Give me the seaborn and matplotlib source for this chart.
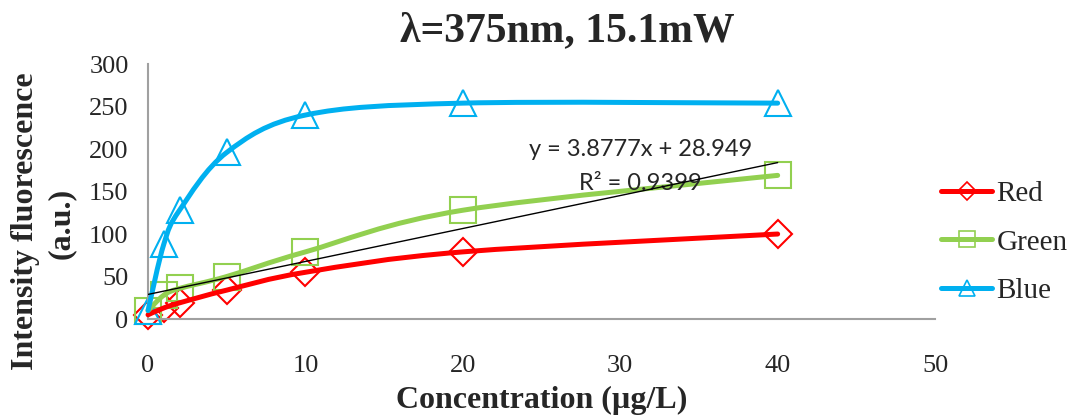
import matplotlib
matplotlib.use("Agg")
import matplotlib.pyplot as plt
from matplotlib.path import Path
from matplotlib.patches import PathPatch
from matplotlib.lines import Line2D
import seaborn as sns

sns.set_theme(style="white")
plt.rcParams["font.family"] = ["Liberation Serif", "DejaVu Serif"]

# data
conc = [0, 1, 2, 5, 10, 20, 40]
red = [5, 13, 19, 34, 55, 79, 100]
green = [10, 28, 36, 50, 79, 128, 169]
blue = [10, 88, 128, 196, 240, 254, 254]
trend_slope = 3.8777
trend_intercept = 28.949
trend_r2 = 0.9399
x_ticks = [0, 10, 20, 30, 40, 50]
y_ticks = [0, 50, 100, 150, 200, 250, 300]

series = [
    ("Red", red, "#ff0000", "D"),
    ("Green", green, "#92d050", "s"),
    ("Blue", blue, "#00b0f0", "^"),
]


def smooth_path(xs, ys):
    # excel-like smoothed line: cubic bezier through the points
    pts = list(zip(xs, ys))
    ext = [pts[0]] + pts + [pts[-1]]
    verts = [pts[0]]
    codes = [Path.MOVETO]
    for i in range(1, len(ext) - 2):
        p0, p1, p2, p3 = ext[i - 1], ext[i], ext[i + 1], ext[i + 2]
        c1 = (p1[0] + (p2[0] - p0[0]) / 6, p1[1] + (p2[1] - p0[1]) / 6)
        c2 = (p2[0] - (p3[0] - p1[0]) / 6, p2[1] - (p3[1] - p1[1]) / 6)
        verts += [c1, c2, p2]
        codes += [Path.CURVE4] * 3
    return Path(verts, codes)


fig = plt.figure(figsize=(10.83, 4.18), dpi=100)
ax = fig.add_axes([0.1367, 0.2368, 0.7267, 0.6100])

handles = []
for name, vals, col, mk in series:
    ax.add_patch(PathPatch(smooth_path(conc, vals), fill=False, edgecolor=col,
                           lw=3.6, capstyle="round", joinstyle="round", zorder=3,
                           clip_on=False))
    sns.lineplot(x=conc, y=vals, ax=ax, marker=mk, markersize=19 if mk != "D" else 14,
                 markerfacecolor="none", markeredgecolor=col, markeredgewidth=1.5,
                 linestyle="", color=col, zorder=2, clip_on=False)
    handles.append(Line2D([], [], color=col, lw=3.6, solid_capstyle="round",
                          marker=mk, markersize=12 if mk != "D" else 9,
                          markerfacecolor="none", markeredgecolor=col,
                          markeredgewidth=1.2))

tx = [0, 40]
sns.lineplot(x=tx, y=[trend_slope * v + trend_intercept for v in tx], ax=ax,
             color="black", lw=1, zorder=4)

ax.text(31.3, 199, f"y = {trend_slope}x + {trend_intercept}", fontsize=17,
        family="Lato", ha="center", va="center")
ax.text(31.3, 160, f"R² = {trend_r2}", fontsize=17, family="Lato",
        ha="center", va="center")

ax.set_xlim(0, 50)
ax.set_ylim(0, 300)
ax.set_xticks(x_ticks)
ax.set_yticks(y_ticks)
ax.tick_params(axis="both", labelsize=19, length=0)
ax.tick_params(axis="x", pad=26)
ax.tick_params(axis="y", pad=14)
for s in ["top", "right"]:
    ax.spines[s].set_visible(False)
for s in ["left", "bottom"]:
    ax.spines[s].set_color("#a0a0a0")
    ax.spines[s].set_linewidth(1.5)

fig.text(0.5235, 0.925, "λ=375nm, 15.1mW", fontsize=30, fontweight="bold",
         ha="center", va="center")
fig.text(0.5, 0.042, "Concentration (µg/L)", fontsize=23, fontweight="bold",
         ha="center", va="center")
fig.text(0.024, 0.47, "Intensity fluorescence", fontsize=23, fontweight="bold",
         rotation=90, ha="center", va="center")
fig.text(0.057, 0.465, "(a.u.)", fontsize=23, fontweight="bold",
         rotation=90, ha="center", va="center")

fig.legend(handles, [s[0] for s in series], loc="center left",
           bbox_to_anchor=(0.869, 0.42), frameon=False, fontsize=21,
           borderaxespad=0, borderpad=0,
           handlelength=1.75, handletextpad=0.15, labelspacing=0.75)

fig.savefig("out.png", dpi=100)
